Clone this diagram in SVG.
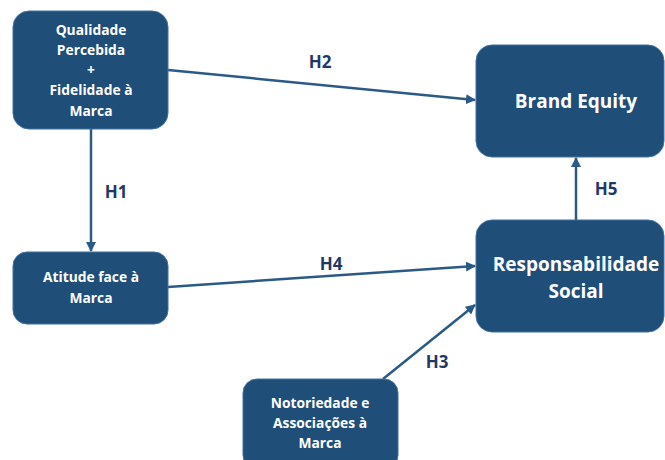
<svg xmlns="http://www.w3.org/2000/svg" width="665" height="460" viewBox="0 0 665 460">
<defs>
<style>
.node{fill:#1f4e79;stroke:#41719c;stroke-width:1}
.t{fill:#ffffff;font-family:"Open Sans","Liberation Sans",sans-serif;font-weight:bold;text-anchor:middle}
.s{font-size:13.8px}
.b{font-size:19px}
.lbl{fill:#1f3864;font-family:"Open Sans","Liberation Sans",sans-serif;font-weight:bold;font-size:17px;text-anchor:middle}
.c{stroke:#2a5a85;stroke-width:2.5;fill:none;marker-end:url(#ah)}
</style>
<marker id="ah" viewBox="0 0 10 10" refX="9" refY="5" markerWidth="4" markerHeight="4" orient="auto" markerUnits="strokeWidth">
<path d="M0,0 L10,5 L0,10 z" fill="#2a5a85"/>
</marker>
</defs>
<rect width="665" height="460" fill="#ffffff"/>
<g id="connectors">
<line class="c" x1="91" y1="129" x2="91" y2="251"/>
<line class="c" x1="168" y1="70" x2="475" y2="100"/>
<line class="c" x1="168" y1="287" x2="475" y2="266"/>
<line class="c" x1="383" y1="379" x2="475" y2="305"/>
<line class="c" x1="576" y1="220" x2="576" y2="158"/>
<text class="lbl" x="320" y="68">H2</text>
<text class="lbl" x="116" y="198">H1</text>
<text class="lbl" x="331" y="270">H4</text>
<text class="lbl" x="606" y="195">H5</text>
<text class="lbl" x="437" y="368">H3</text>
</g>
<g id="n1">
<rect class="node" x="13" y="11" width="155" height="118" rx="16"/>
<text class="t s" x="91" y="35">Qualidade</text>
<text class="t s" x="91" y="55">Percebida</text>
<text class="t s" x="91" y="75">+</text>
<text class="t s" x="91" y="95">Fidelidade à</text>
<text class="t s" x="91" y="116">Marca</text>
</g>
<g id="n2">
<rect class="node" x="476" y="45" width="188" height="112" rx="16"/>
<text class="t b" x="576" y="108">Brand Equity</text>
</g>
<g id="n3">
<rect class="node" x="13" y="252" width="155" height="72" rx="14"/>
<text class="t s" x="91" y="282">Atitude face à</text>
<text class="t s" x="91" y="303">Marca</text>
</g>
<g id="n4">
<rect class="node" x="476" y="220" width="188" height="112" rx="16"/>
<text class="t b" x="576" y="271">Responsabilidade</text>
<text class="t b" x="576" y="298">Social</text>
</g>
<g id="n5">
<rect class="node" x="243" y="379" width="155" height="90" rx="14"/>
<text class="t s" x="320" y="408">Notoriedade e</text>
<text class="t s" x="320" y="428">Associações à</text>
<text class="t s" x="320" y="448">Marca</text>
</g>
</svg>
